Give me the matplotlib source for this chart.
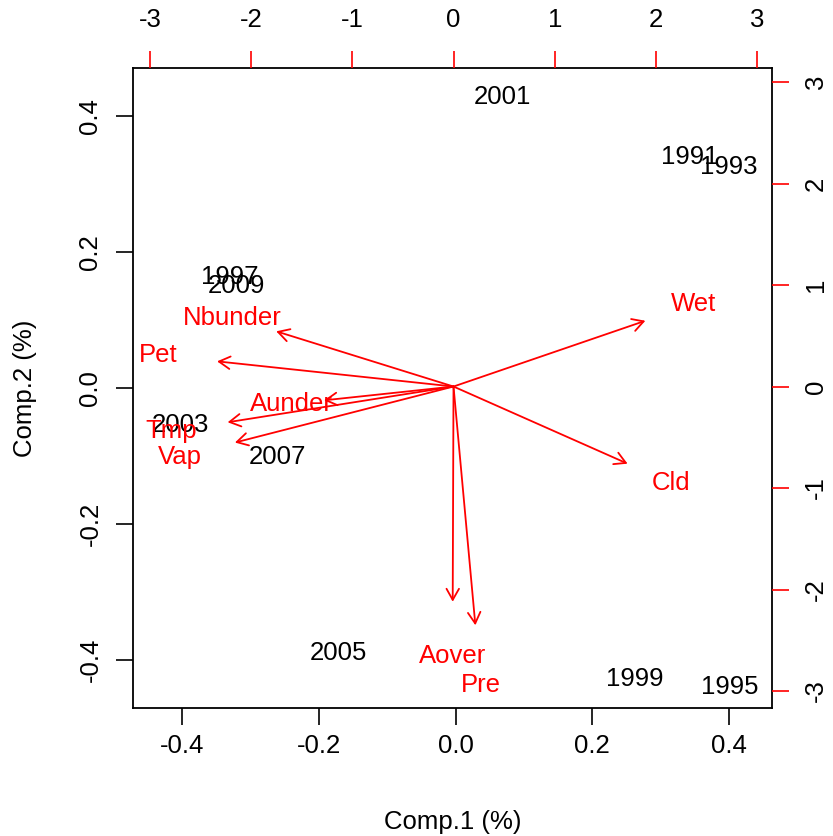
import matplotlib
matplotlib.use("Agg")
import matplotlib.pyplot as plt
from matplotlib.patches import FancyArrowPatch

plt.rcParams['font.family'] = ['Liberation Sans', 'DejaVu Sans']

# Observation scores (Comp.1, Comp.2)
years = ["2001", "1991", "1993", "1997", "2009", "2003", "2007", "2005", "1999", "1995"]
score1 = [0.068, 0.343, 0.400, -0.330, -0.321, -0.403, -0.261, -0.172, 0.262, 0.401]
score2 = [0.429, 0.340, 0.326, 0.163, 0.150, -0.054, -0.101, -0.390, -0.429, -0.440]

# Variable loadings (label positions; arrows drawn to 80 %)
variables = ["Wet", "Cld", "Pre", "Aover", "Nbunder", "Pet", "Aunder", "Tmp", "Vap"]
load1 = [2.37, 2.15, 0.27, -0.01, -2.19, -2.92, -1.60, -2.79, -2.70]
load2 = [0.81, -0.95, -2.94, -2.65, 0.68, 0.31, -0.17, -0.44, -0.69]

xticks = [-0.4, -0.2, 0.0, 0.2, 0.4]
yticks = [-0.4, -0.2, 0.0, 0.2, 0.4]
top_ticks = [-3, -2, -1, 0, 1, 2, 3]
right_ticks = [-3, -2, -1, 0, 1, 2, 3]

W, H = 833, 836
fig = plt.figure(figsize=(W / 100, H / 100), dpi=100)
L, R, T, B = 133, 772, 68, 708
pos = [L / W, (H - B) / H, (R - L) / W, (B - T) / H]
ax = fig.add_axes(pos)
ax2 = fig.add_axes(pos, frameon=False)

FS = 18.5
ax.set_xlim(-0.472, 0.463)
ax.set_ylim(-0.471, 0.471)
ax.set_xticks(xticks)
ax.set_xticklabels([f"{v:.1f}" for v in xticks])
ax.set_yticks(yticks)
ax.set_yticklabels([f"{v:.1f}" for v in yticks], rotation=90, va='center')
ax.tick_params(axis='both', direction='out', length=12, width=1.2, labelsize=FS, color='black')
ax.tick_params(axis='x', pad=7)
ax.tick_params(axis='y', pad=10)
for s in ax.spines.values():
    s.set_linewidth(1.3)
ax.set_xlabel("Comp.1 (%)", fontsize=FS, labelpad=37)
ax.set_ylabel("Comp.2 (%)", fontsize=FS, labelpad=30)

for t, x, y in zip(years, score1, score2):
    ax.text(x, y, t, fontsize=FS, ha='center', va='center', color='black')

ax2.set_xlim(-3.167, 3.147)
ax2.set_ylim(-3.167, 3.138)
ax2.xaxis.set_ticks_position('top')
ax2.xaxis.set_label_position('top')
ax2.yaxis.set_ticks_position('right')
ax2.yaxis.set_label_position('right')
ax2.set_xticks(top_ticks)
ax2.set_xticklabels([str(v) for v in top_ticks])
ax2.set_yticks(right_ticks)
ax2.set_yticklabels([str(v) for v in right_ticks], rotation=90, va='center')
ax2.tick_params(axis='both', direction='out', length=12, width=1.2, labelsize=FS,
                color='red', labelcolor='black')
ax2.tick_params(axis='x', pad=14)
ax2.tick_params(axis='y', pad=11)
ax2.patch.set_alpha(0)

for name, x, y in zip(variables, load1, load2):
    arr = FancyArrowPatch((0, 0), (0.8 * x, 0.8 * y),
                          arrowstyle='->,head_length=8,head_width=4.5',
                          mutation_scale=1, color='red', lw=1.3,
                          shrinkA=0, shrinkB=0)
    ax2.add_patch(arr)
    ax2.text(x, y, name, fontsize=FS, ha='center', va='center', color='red')

fig.savefig("out.png", dpi=100)
